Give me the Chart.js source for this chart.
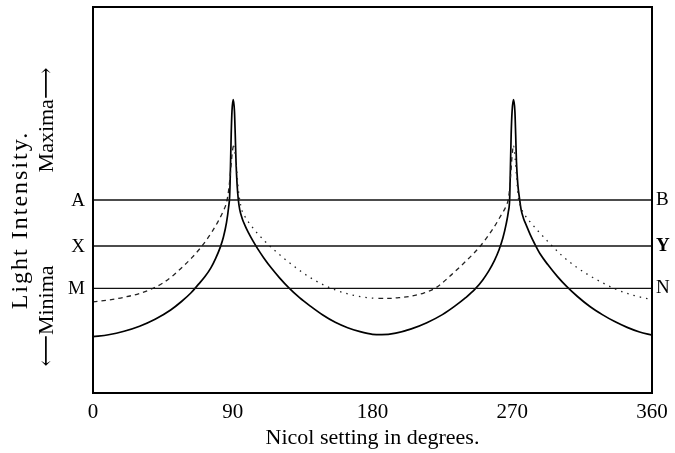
<!DOCTYPE html>
<html>
<head>
<meta charset="utf-8">
<script src="https://cdn.jsdelivr.net/npm/chart.js@4/dist/chart.umd.min.js"></script>
<style>
  html, body { margin: 0; padding: 0; background: #fff; }
  canvas { display: block; }
</style>
</head>
<body>
<canvas id="chart" width="675" height="453"></canvas>
<script>
// Nicol setting (degrees) and light intensity
var solidDeg = [0, 10, 20, 30, 40, 50, 57, 63, 68, 72, 76, 79, 82, 84, 86, 87.3, 88,
  88.5, 89, 89.5, 90.3, 91.1, 91.6, 92.1, 92.8, 93.6, 94.5, 96, 98, 100, 103, 106, 110,
  115, 120, 126, 133, 140, 148, 156, 164, 172, 180, 186, 195, 205, 215, 225, 233, 240,
  246, 251, 255, 258.5, 261.5, 264, 266, 267.5, 268.3, 268.8, 269.3, 269.9, 270.8,
  271.7, 272.2, 272.7, 273.6, 274.8, 275.7, 277.2, 279.2, 281.5, 284.5, 288, 293, 299,
  305, 312, 320, 328, 336, 344, 352, 360];
var solidVal = [14.6, 15.1, 16, 17.3, 19.1, 21.5, 23.7, 25.9, 28.2, 30.1, 32.5, 34.9, 37.8, 40.4, 44.2, 48, 51,
  58, 67, 73, 76, 73, 67, 60, 54, 50, 47.5, 45.3, 43.3, 41.6, 39.4, 37.4, 35,
  32.3, 29.9, 27.3, 24.7, 22.5, 20.2, 18.3, 16.9, 15.9, 15.2, 15.1, 15.5, 16.6, 18.2, 20.3, 22.5, 24.7,
  26.9, 29.3, 31.7, 34.3, 37.1, 40.2, 43.6, 47, 50, 58, 67, 73, 76,
  73, 67, 60, 54, 50, 47.5, 45.3, 43.3, 41.1, 38.6, 36, 33.2, 30.2,
  27.6, 25, 22.4, 20.3, 18.5, 17, 15.8, 15];

var dashDeg = [0, 10, 20, 30, 38, 45, 52, 58, 64, 69, 73, 77, 80.5, 83.5, 86, 87.5, 88.7,
  89.6, 90.5, 91.5, 92.5, 93.5, 94.5, 95.7, 98, 101, 106, 111, 116, 122, 128, 135, 142,
  149, 156, 163, 170, 177, 184, 190, 197, 205, 213, 221, 228, 234, 240, 245, 249.5,
  253.5, 257, 260, 263, 266, 267.8, 268.9, 269.8, 270.8, 271.8, 272.8, 273.8, 275.5,
  278, 282, 287, 294, 302, 310, 319, 327, 336, 348, 360];
var dashVal = [23.6, 24.1, 24.8, 25.8, 27, 28.5, 30.6, 32.8, 35.2, 37.5, 39.6, 42, 44.4, 46.8, 49.4, 53, 58,
  62, 64, 62, 58, 53, 50, 47.6, 45.6, 43.8, 41.3, 39.2, 37.3, 35.2, 33.3, 31.2, 29.4,
  27.9, 26.7, 25.8, 25.1, 24.7, 24.5, 24.5, 24.7, 25.1, 25.9, 27.3, 29.6, 31.8, 34.1, 36.1, 38.1,
  40.2, 42.2, 44.1, 46.2, 48.4, 51, 56, 61, 64, 61, 56, 51, 48.2,
  46.2, 44.1, 41.8, 38.8, 35.6, 33, 30.6, 28.8, 27, 25.3, 24.2];

// reference levels A-B, X-Y, M-N
var leftNames = ['A', 'X', 'M'];
var rightNames = ['B', 'Y', 'N'];
var levelValues = [50, 38.1, 27.1];

var xTicks = [0, 90, 180, 270, 360];

var serif = '"Liberation Serif", "DejaVu Serif", serif';

function pts(xs, ys) {
  return xs.map(function (x, i) { return { x: x, y: ys[i] }; });
}

// dashes on the rising branches, sparse dots on the falling ones
function dashFor(ctx) {
  var x = ctx.p0.parsed.x;
  if ((x >= 90.5 && x < 180) || x >= 270.8) return [1.5, 5];
  return [4.5, 4];
}

var datasets = levelValues.map(function (v) {
  return {
    data: [{ x: 0, y: v }, { x: 360, y: v }],
    borderColor: '#111',
    borderWidth: 1.4,
    pointRadius: 0
  };
});
datasets.push({
  data: pts(dashDeg, dashVal),
  borderColor: '#222',
  borderWidth: 1.3,
  pointRadius: 0,
  cubicInterpolationMode: 'monotone',
  segment: { borderDash: dashFor }
});
datasets.push({
  data: pts(solidDeg, solidVal),
  borderColor: '#000',
  borderWidth: 1.7,
  pointRadius: 0,
  cubicInterpolationMode: 'monotone'
});

var decorations = {
  id: 'decorations',
  afterDatasetsDraw: function (chart) {
    var ctx = chart.ctx;
    var a = chart.chartArea;
    var y = chart.scales.y;
    ctx.save();
    ctx.strokeStyle = '#000';
    ctx.lineWidth = 2;
    ctx.strokeRect(a.left, a.top, a.right - a.left, a.bottom - a.top);

    ctx.fillStyle = '#000';
    ctx.textBaseline = 'middle';
    ctx.font = '19px ' + serif;
    ctx.textAlign = 'right';
    leftNames.forEach(function (n, i) {
      ctx.fillText(n, a.left - 8, y.getPixelForValue(levelValues[i]) + 1);
    });
    ctx.textAlign = 'left';
    rightNames.forEach(function (n, i) {
      ctx.font = (n === 'Y' ? 'bold ' : '') + '19px ' + serif;
      ctx.fillText(n, a.right + 4, y.getPixelForValue(levelValues[i]));
    });

    // rotated y-axis caption
    ctx.textAlign = 'center';
    [['Light Intensity.', 21, 220, '24px', '2px'],
     ['Maxima\u27F6', 47, 120, '22px', '0px'],
     ['\u27F5Minima', 47, 316, '22px', '0px']].forEach(function (t) {
      ctx.save();
      ctx.font = t[3] + ' ' + serif;
      ctx.letterSpacing = t[4];
      ctx.translate(t[1], t[2]);
      ctx.rotate(-Math.PI / 2);
      ctx.fillText(t[0], 0, 0);
      ctx.restore();
    });
    ctx.restore();
  }
};

new Chart(document.getElementById('chart'), {
  type: 'line',
  data: { datasets: datasets },
  options: {
    responsive: false,
    animation: false,
    layout: { padding: { top: 7, right: 23, left: 0, bottom: 0 } },
    plugins: { legend: { display: false }, tooltip: { enabled: false } },
    scales: {
      x: {
        type: 'linear',
        min: 0,
        max: 360,
        afterBuildTicks: function (scale) {
          scale.ticks = xTicks.map(function (v) { return { value: v }; });
        },
        afterFit: function (scale) { scale.height = 60; },
        grid: { display: false, drawTicks: false },
        border: { display: false },
        ticks: { color: '#000', padding: 7, font: { family: serif, size: 21 }, maxRotation: 0 },
        title: {
          display: true,
          text: 'Nicol setting in degrees.',
          color: '#000',
          font: { family: serif, size: 22 },
          padding: { top: 0, bottom: 2 }
        }
      },
      y: {
        min: 0,
        max: 100,
        afterFit: function (scale) { scale.width = 93; },
        grid: { display: false, drawTicks: false },
        border: { display: false },
        ticks: { display: false }
      }
    }
  },
  plugins: [decorations]
});
</script>
</body>
</html>
